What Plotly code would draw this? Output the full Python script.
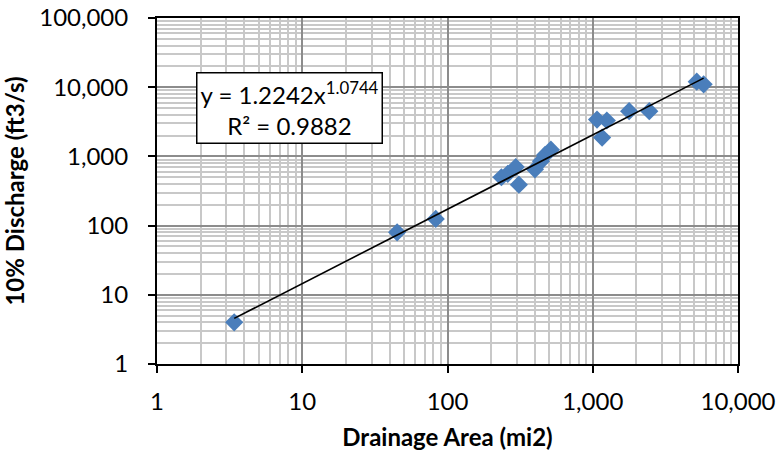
import numpy as np
import plotly.graph_objects as go

# Data
drainage_area = [3.4, 45, 83, 235, 260, 295, 310, 400, 440, 470, 515,
                 1070, 1250, 1160, 1780, 2450, 5200, 5800]
discharge_10pct = [4, 80, 125, 500, 560, 700, 390, 650, 850, 1050, 1250,
                   3400, 3300, 1870, 4500, 4500, 12000, 11000]

# Power trendline reported on the chart
coef_a = 1.2242
coef_b = 1.0744
r_squared = 0.9882

x_tick_vals = [1, 10, 100, 1000, 10000]
x_tick_text = ["1", "10", "100", "1,000", "10,000"]
y_tick_vals = [1, 10, 100, 1000, 10000, 100000]
y_tick_text = ["1", "10", "100", "1,000", "10,000", "100,000"]

trend_x = np.logspace(np.log10(min(drainage_area)), np.log10(max(drainage_area)), 60)
trend_y = coef_a * trend_x ** coef_b

FONT = "Lato, Calibri, Carlito, sans-serif"

fig = go.Figure()
fig.add_trace(go.Scatter(
    x=drainage_area, y=discharge_10pct, mode="markers",
    marker=dict(symbol="diamond", size=14, color="#4a7ebb", line=dict(width=0)),
    showlegend=False))
fig.add_trace(go.Scatter(
    x=trend_x, y=trend_y, mode="lines",
    line=dict(color="black", width=1.6), showlegend=False))

axis_common = dict(
    type="log", showline=True, linecolor="black", linewidth=2, mirror=True,
    ticks="outside", ticklen=7, tickwidth=1.5, tickcolor="black",
    showgrid=True, gridcolor="#8c8c8c", gridwidth=1.5,
    minor=dict(dtick="D1", showgrid=True, gridcolor="#c8c8c8", gridwidth=1.5, ticks=""),
    tickfont=dict(family=FONT, size=24, color="black"),
    zeroline=False, automargin=False,
)

fig.update_xaxes(**axis_common, range=[0, 4], tickvals=x_tick_vals, ticktext=x_tick_text,
                 ticklabelstandoff=8,
                 title=dict(text="<b>Drainage Area (mi2)</b>", font=dict(family=FONT, size=24, color="black"), standoff=15))
fig.update_yaxes(**axis_common, range=[0, 5], tickvals=y_tick_vals, ticktext=y_tick_text,
                 ticklabelstandoff=15,
                 title=dict(text="<b>10% Discharge (ft3/s)</b>", font=dict(family=FONT, size=24, color="black"), standoff=10))

fig.add_annotation(
    xref="paper", yref="paper", x=0.228, y=0.741, xanchor="center", yanchor="middle",
    text=f"y = {coef_a}x<sup>{coef_b}</sup><br>R² = {r_squared}",
    showarrow=False, align="center",
    font=dict(family=FONT, size=24, color="black"),
    bgcolor="white", bordercolor="black", borderwidth=1.5, borderpad=3)

fig.update_layout(
    width=780, height=458,
    margin=dict(l=157, r=42, t=18, b=94, autoexpand=False),
    paper_bgcolor="white", plot_bgcolor="white",
)

fig.write_html("out.html", config={"displayModeBar": False},
               post_script="document.body.style.margin='0';")
